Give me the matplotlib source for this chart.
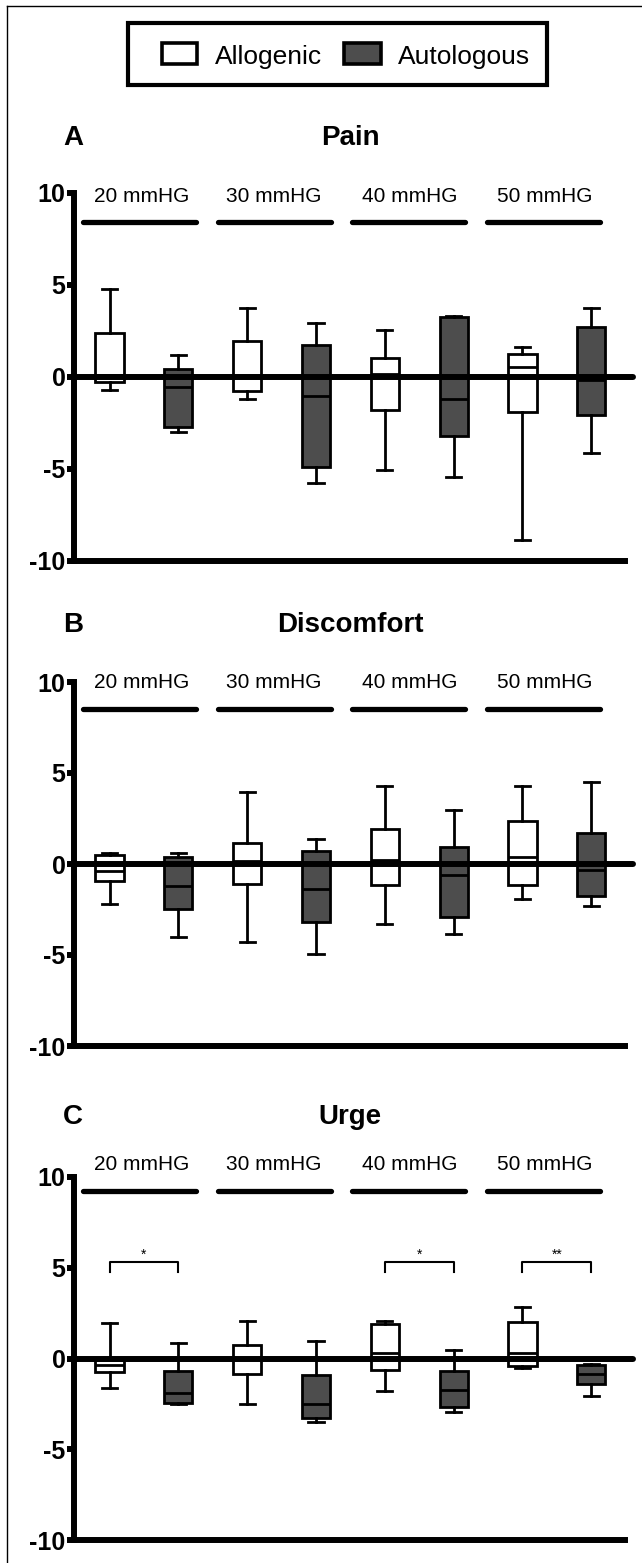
import matplotlib
matplotlib.use('Agg')
import matplotlib.pyplot as plt
from matplotlib.patches import Rectangle
from matplotlib.lines import Line2D

W, H, DPI = 642, 1563, 100
plt.rcParams['font.family'] = ['Liberation Sans', 'DejaVu Sans']

# ---------------- data ----------------
groups = ['20 mmHG', '30 mmHG', '40 mmHG', '50 mmHG']
series = ['Allogenic', 'Autologous']
panel_letters = ['A', 'B', 'C']
panel_titles = ['Pain', 'Discomfort', 'Urge']
yticks = [-10, -5, 0, 5, 10]

# five-number summaries per pressure: (whisker low, Q1, median, Q3, whisker high)
pain_allo = [(-0.71, -0.27, 0.10, 2.37, 4.77), (-1.20, -0.74, 0.05, 1.97, 3.73),
             (-5.05, -1.79, 0.15, 1.05, 2.55), (-8.86, -1.88, 0.53, 1.25, 1.61)]
pain_auto = [(-2.97, -2.70, -0.53, 0.45, 1.20), (-5.78, -4.91, -1.03, 1.72, 2.95),
             (-5.42, -3.21, -1.20, 3.24, 3.30), (-4.11, -2.07, -0.16, 2.74, 3.75)]
disc_allo = [(-2.21, -0.91, -0.36, 0.51, 0.60), (-4.31, -1.12, 0.18, 1.18, 3.95),
             (-3.30, -1.18, 0.22, 1.90, 4.26), (-1.90, -1.18, 0.36, 2.39, 4.26)]
disc_auto = [(-4.02, -2.45, -1.20, 0.36, 0.63), (-4.93, -3.17, -1.38, 0.71, 1.36),
             (-3.86, -2.90, -0.58, 0.96, 2.99), (-2.32, -1.78, -0.33, 1.68, 4.53)]
urge_allo = [(-1.65, -0.73, -0.37, -0.08, 1.96), (-2.53, -0.83, 0.05, 0.73, 2.06),
             (-1.78, -0.64, 0.28, 1.89, 2.07), (-0.50, -0.42, 0.31, 2.02, 2.84)]
urge_auto = [(-2.48, -2.44, -1.89, -0.68, 0.86), (-3.49, -3.30, -2.51, -0.92, 0.95),
             (-2.94, -2.66, -1.71, -0.68, 0.46), (-2.06, -1.43, -0.86, -0.37, -0.28)]
urge_sig_groups = [0, 2, 3]
urge_sig_labels = ['*', '*', '**']

panel_data = [(pain_allo, pain_auto), (disc_allo, disc_auto), (urge_allo, urge_auto)]
sig_info = [None, None, (urge_sig_groups, urge_sig_labels)]

# ---------------- layout ----------------
GRAY = '#4d4d4d'
AX_X0, AX_X1 = 74, 625
panel_px = [(193, 561), (682, 1046), (1177, 1540)]   # (y of +10, y of -10)
title_base = [145, 632, 1124]
hdr_bar_y = [8.44, 8.53, 9.22]
hdr_lab_y = [9.53, 9.67, 10.36]
bar_centers = [1.44, 3.40, 5.34, 7.30]
bar_half = 0.82
lab_centers = [1.46, 3.38, 5.36, 7.32]
XLIM = (0.484, 8.49)

fig = plt.figure(figsize=(W / DPI, H / DPI), dpi=DPI)


def fx(x):
    return x / W


def fy(y):
    return 1 - y / H


# outer frame
fig.add_artist(Line2D([fx(7), fx(642)], [fy(6), fy(6)], color='k', lw=1.0))
fig.add_artist(Line2D([fx(7), fx(7)], [fy(6), fy(1563)], color='k', lw=1.0))

# legend
fig.add_artist(Rectangle((fx(128), fy(85)), fx(547) - fx(128), fy(23) - fy(85),
                         transform=fig.transFigure, fill=False, lw=3.0, ec='k'))
fig.add_artist(Rectangle((fx(162), fy(64)), fx(197) - fx(162), fy(43) - fy(64),
                         transform=fig.transFigure, fc='white', lw=2.6, ec='k'))
fig.add_artist(Rectangle((fx(344), fy(64)), fx(381) - fx(344), fy(43) - fy(64),
                         transform=fig.transFigure, fc=GRAY, lw=2.6, ec='k'))
fig.text(fx(215), fy(64), series[0], fontsize=19, va='baseline', ha='left')
fig.text(fx(398), fy(64), series[1], fontsize=19, va='baseline', ha='left')

for i in range(3):
    ytop, ybot = panel_px[i]
    ax = fig.add_axes([fx(AX_X0), fy(ybot), (AX_X1 - AX_X0) / W, (ybot - ytop) / H])
    allo, auto = panel_data[i]
    stats = []
    positions = []
    colors = []
    for g in range(4):
        for s, dat in enumerate((allo, auto)):
            lo, q1, med, q3, hi = dat[g]
            stats.append(dict(whislo=lo, q1=q1, med=med, q3=q3, whishi=hi, fliers=[]))
            positions.append(2 * g + s + 1)
            colors.append('white' if s == 0 else GRAY)
    lw = 2.0
    bp = ax.bxp(stats, positions=positions, widths=0.41, capwidths=0.22,
                patch_artist=True, showfliers=False,
                boxprops=dict(lw=lw, edgecolor='k'),
                whiskerprops=dict(lw=lw, color='k'),
                capprops=dict(lw=lw, color='k'),
                medianprops=dict(lw=lw, color='k'))
    for patch, c in zip(bp['boxes'], colors):
        patch.set_facecolor(c)

    ax.set_xlim(*XLIM)
    ax.set_ylim(-10, 10)
    ax.set_yticks(yticks)
    ax.set_yticklabels([str(t) for t in yticks], fontsize=18, fontweight='bold')
    ax.tick_params(axis='y', length=5, width=4.3, pad=1)
    ax.set_xticks([])
    for sp in ('top', 'right'):
        ax.spines[sp].set_visible(False)
    ax.spines['left'].set_linewidth(4.3)
    ax.spines['bottom'].set_linewidth(4.3)
    ax.patch.set_alpha(0)

    # zero line
    ax.plot([XLIM[0], 8.61], [0, 0], color='k', lw=4.3, solid_capstyle='round',
            clip_on=False, zorder=6)

    # group header bars + labels
    for g in range(4):
        ax.plot([bar_centers[g] - bar_half, bar_centers[g] + bar_half],
                [hdr_bar_y[i], hdr_bar_y[i]], color='k', lw=3.8,
                solid_capstyle='round', clip_on=False)
        ax.text(lab_centers[g], hdr_lab_y[i], groups[g], ha='center', va='baseline',
                fontsize=15, clip_on=False)

    # significance brackets
    if sig_info[i] is not None:
        for g, lab in zip(*sig_info[i]):
            x1, x2 = 2 * g + 1, 2 * g + 2
            ax.plot([x1, x1, x2, x2], [4.77, 5.32, 5.32, 4.77], color='k', lw=1.5)
            ax.text((x1 + x2) / 2, 5.7, lab, ha='center', va='center', fontsize=10)

    # titles
    fig.text(fx(63), fy(title_base[i]), panel_letters[i], fontsize=20, fontweight='bold',
             ha='left', va='baseline')
    fig.text(fx(350), fy(title_base[i]), panel_titles[i], fontsize=20, fontweight='bold',
             ha='center', va='baseline')

fig.savefig('out.png', dpi=DPI)
